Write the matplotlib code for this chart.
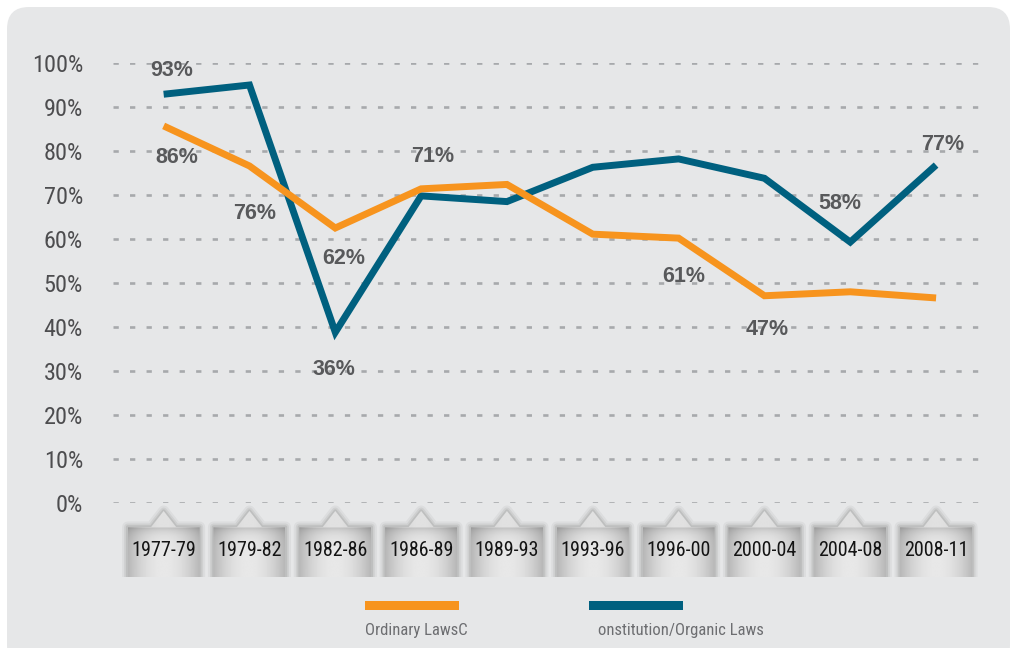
import numpy as np
import matplotlib.pyplot as plt
from matplotlib import font_manager as fm
from matplotlib.patches import FancyBboxPatch, Polygon, Rectangle

# data
periods = ['1977-79', '1979-82', '1982-86', '1986-89', '1989-93',
           '1993-96', '1996-00', '2000-04', '2004-08', '2008-11']
ordinary = [85.7, 76.6, 62.5, 71.4, 72.4, 61.1, 60.2, 47.1, 48.0, 46.6]
constitutional = [92.9, 95.0, 38.8, 69.8, 68.5, 76.3, 78.2, 73.8, 59.3, 76.8]
yticks = list(range(0, 101, 10))

# printed value labels (index -> text)
ordinary_labels = {0: '86%', 1: '76%', 2: '62%', 3: '71%', 6: '61%', 7: '47%'}
constitutional_labels = {0: '93%', 2: '36%', 8: '58%', 9: '77%'}

# label offsets in pixels (dx, dy downwards)
ordinary_offsets = {0: (13, 32), 1: (5, 48), 2: (8, 31), 3: (12, -32), 6: (5, 38), 7: (3, 34)}
constitutional_offsets = {0: (8, -24), 2: (-1, 37), 8: (-10, -39), 9: (7, -21)}

orange = '#F7941E'
blue = '#00607F'
plt.rcParams['lines.scale_dashes'] = False


def condensed_font():
    # look for a narrow/condensed sans face among the installed fonts
    good = []
    for f in fm.fontManager.ttflist:
        tag = (f.name + ' ' + f.fname).lower()
        narrow = ('narrow' in tag or 'condensed' in tag
                  or f.stretch in ('condensed', 'semi-condensed', 'extra-condensed', 550, 600, 625, 650, 700))
        if not narrow or f.style != 'normal' or 'mono' in tag or 'serif' in f.name.lower():
            continue
        if 'bold' in tag or 'light' in tag or 'thin' in tag or 'black' in tag or 'medium' in tag:
            continue
        if 'extra' in tag or 'ultra' in tag:
            continue
        rank = 0 if 'liberation' in tag else 1 if 'roboto' in tag else 2 if 'dejavu' in tag else 3
        good.append((rank, f.fname))
    if good:
        return fm.FontProperties(fname=sorted(good)[0][1])
    return fm.FontProperties(family='Liberation Sans')


cond = condensed_font()

W, H = 1011, 648
fig = plt.figure(figsize=(W / 100, H / 100), dpi=100)
fig.patch.set_facecolor('white')

# background panel and legend (pixel coords)
bg = fig.add_axes([0, 0, 1, 1], zorder=0)
bg.set_xlim(0, W)
bg.set_ylim(H, 0)
bg.axis('off')
bg.add_patch(FancyBboxPatch((7, 7), 1003, 660, boxstyle='round,pad=0,rounding_size=22',
                            fc='#E6E7E8', ec='none'))
bg.add_patch(Rectangle((365, 601), 94, 9, fc=orange, ec='none'))
bg.add_patch(Rectangle((589, 601), 94, 9, fc=blue, ec='none'))
bg.text(365, 630, 'Ordinary LawsC', fontproperties=cond, fontsize=12, color='#6D6E71',
        ha='left', va='center')
bg.text(598, 630, 'onstitution/Organic Laws', fontproperties=cond, fontsize=12, color='#6D6E71',
        ha='left', va='center')

# main axes
x0_px, x1_px, ytop_px, ybot_px = 113, 985, 63, 503
ax = fig.add_axes([x0_px / W, (H - ybot_px) / H, (x1_px - x0_px) / W, (ybot_px - ytop_px) / H],
                  zorder=1)
ax.set_facecolor('none')
x = np.arange(len(periods))
xlo, xhi = -0.590, 9.570
ylo, yhi = 0, 100
px_x = (x1_px - x0_px) / (xhi - xlo)
px_y = (ybot_px - ytop_px) / (yhi - ylo)

for t in yticks:
    ax.axhline(t, color='#A7A9AC', lw=1.9, ls=(0, (3.8, 8.1)), zorder=1)

ax.plot(x, constitutional, color=blue, lw=5, solid_joinstyle='miter',
        solid_capstyle='butt', zorder=3)
ax.plot(x, ordinary, color=orange, lw=5, solid_joinstyle='miter',
        solid_capstyle='butt', zorder=4)

for labels, offsets, vals in [(ordinary_labels, ordinary_offsets, ordinary),
                              (constitutional_labels, constitutional_offsets, constitutional)]:
    for i, txt in labels.items():
        dx, dy = offsets[i]
        ax.annotate(txt, (x[i], vals[i]), xytext=(dx * 0.72, -dy * 0.72),
                    textcoords='offset points', ha='center', va='center',
                    fontsize=15.5, fontweight='bold', family=['Liberation Sans', 'DejaVu Sans'],
                    color='#58595B', zorder=5)

# y tick labels
ax.set_yticks(yticks)
ax.set_yticklabels([f'{t}%' for t in yticks], fontproperties=cond, fontsize=17.5, color='#4D4D4F')
ax.tick_params(axis='y', length=0, pad=21.6)
ax.set_xticks([])
for s in ax.spines.values():
    s.set_visible(False)

# tag-shaped period labels under the axis
peak = -(511 - ybot_px) / px_y
shoulder = -(527 - ybot_px) / px_y
bottom = -(577 - ybot_px) / px_y
hw = 36 / px_x
tw = 12.5 / px_x

nx, ny = 80, 80
u = np.linspace(0, 1, nx)
horiz = 0.72 + 0.19 * (1 - np.abs(2 * u - 1) ** 2)
rows_px = np.linspace(511, 577, ny)
d = rows_px - 527
vert = np.where(d < 0, 0.97, 1 - 0.18 * np.exp(-np.clip(d, 0, None) / 6))
shade = np.outer(vert, horiz)

for xi, lab in zip(x, periods):
    verts = [(xi - hw, bottom), (xi - hw, shoulder), (xi - tw, shoulder), (xi, peak),
             (xi + tw, shoulder), (xi + hw, shoulder), (xi + hw, bottom)]
    for lw, a in [(8, 0.04), (5, 0.06), (2.5, 0.08)]:
        ax.add_patch(Polygon(verts, closed=False, fc='none', ec='black', lw=lw, alpha=a,
                             joinstyle='round', clip_on=False, zorder=2))
    clip = Polygon(verts, closed=True, transform=ax.transData)
    im = ax.imshow(shade, cmap='gray', vmin=0, vmax=1, aspect='auto', origin='upper',
                   extent=(xi - hw, xi + hw, bottom, peak), interpolation='bilinear', zorder=3)
    im.set_clip_box(fig.bbox)
    im.set_clip_path(clip)
    ax.text(xi, -(551 - ybot_px) / px_y, lab, fontproperties=cond, fontsize=14.5,
            color='#141414', ha='center', va='center', clip_on=False, zorder=4)

ax.set_xlim(xlo, xhi)
ax.set_ylim(ylo, yhi)

fig.savefig('out.png', dpi=100)
